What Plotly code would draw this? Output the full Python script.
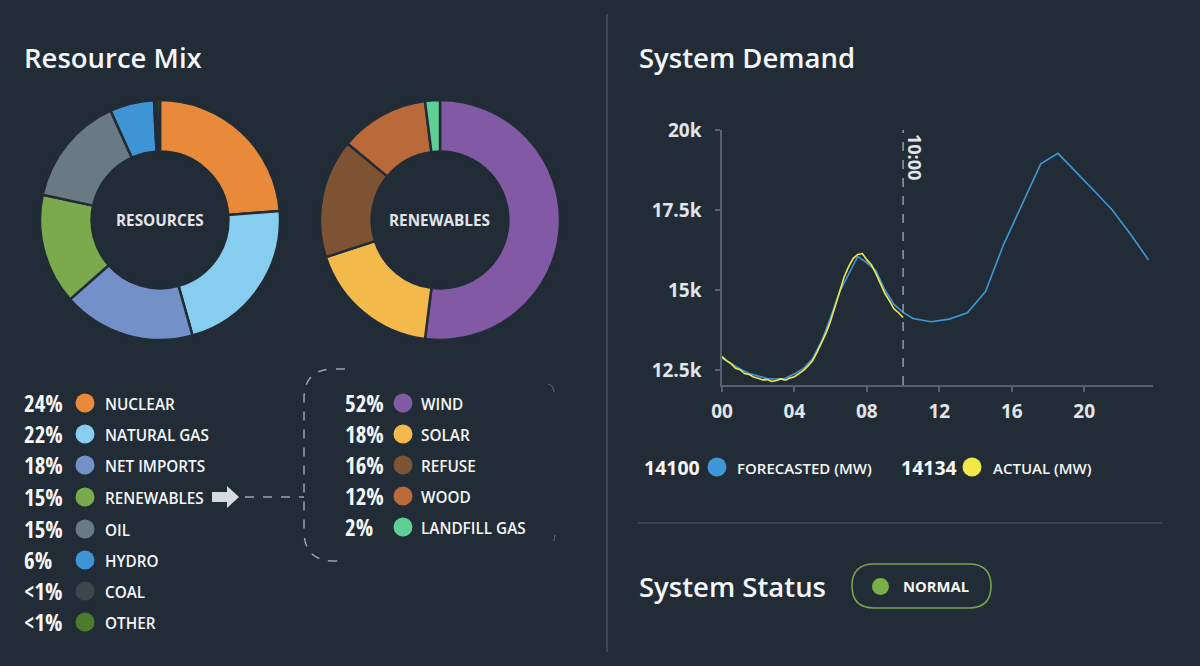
import plotly.graph_objects as go

W, H = 1200, 666
BG = "#222c37"
WHITE = "#f4f6f8"
LIGHT = "#e1e5e9"
AXIS = "#56626d"

# ---------------- data ----------------
resource_labels = ["NUCLEAR", "NATURAL GAS", "NET IMPORTS", "RENEWABLES", "OIL", "HYDRO", "COAL", "OTHER"]
resource_values = [24, 22, 18, 15, 15, 6, 0.4, 0.4]
resource_colors = ["#e98a3b", "#86cdf0", "#7390c8", "#7aaa4b", "#6a7a83", "#3f95d4", "#3d454d", "#4e7b2b"]

renew_labels = ["WIND", "SOLAR", "REFUSE", "WOOD", "LANDFILL GAS"]
renew_values = [52, 18, 16, 12, 2]
renew_colors = ["#8159a4", "#f4b94b", "#7e5334", "#b9693a", "#5fcf96"]

forecast_hours = [0, 0.5, 1.0, 1.5, 2.0, 2.5, 3.0, 3.5, 4.0, 4.5, 5.0, 5.5, 6.0, 6.5, 7.0, 7.5,
                  8.0, 8.5, 9.0, 9.5, 10.0, 10.55, 11.55, 12.55, 13.55, 14.55, 15.55, 16.55,
                  17.6, 18.55, 19.55, 20.55, 21.55, 22.55, 23.55]
forecast_mw = [12870, 12700, 12530, 12390, 12300, 12230, 12220, 12240, 12380, 12550, 12850, 13400,
               14150, 14950, 15500, 16050, 15850, 15600, 15000, 14550, 14300, 14110, 14010, 14090,
               14290, 14950, 16420, 17650, 18940, 19270, 18700, 18100, 17500, 16750, 15940]

actual_hours = [0, 0.25, 0.5, 0.75, 1.0, 1.25, 1.5, 1.75, 2.0, 2.25, 2.5, 2.75, 3.0, 3.25, 3.5,
                3.75, 4.0, 4.25, 4.5, 4.75, 5.0, 5.25, 5.5, 5.75, 6.0, 6.25, 6.5, 6.75, 7.0, 7.25,
                7.5, 7.75, 8.0, 8.25, 8.5, 8.75, 9.0, 9.25, 9.5, 9.75, 10.0]
actual_mw = [12920, 12790, 12700, 12550, 12510, 12390, 12360, 12280, 12240, 12190, 12200, 12140,
             12170, 12220, 12180, 12250, 12290, 12380, 12490, 12630, 12790, 13060, 13340, 13660,
             14040, 14510, 14940, 15410, 15740, 15990, 16110, 16140, 15940, 15790, 15510, 15210,
             14890, 14660, 14410, 14290, 14140]

now_hour = 10
now_label = "10:00"
forecast_now = 14100
actual_now = 14134
forecast_color = "#3e97d6"
actual_color = "#f2e84a"

y_ticks = [12500, 15000, 17500, 20000]
y_tick_text = ["12.5k", "15k", "17.5k", "20k"]
x_ticks = [0, 4, 8, 12, 16, 20]
x_tick_text = ["00", "04", "08", "12", "16", "20"]

status_text = "NORMAL"
status_color = "#7aae4a"


def pct_text(v):
    return "<1%" if v < 1 else f"{round(v)}%"


# ---------------- helpers (pixel -> paper) ----------------
def px(x):
    return x / W


def py(y):
    return 1 - y / H


def P(x, y):
    return f"{px(x):.5f},{py(y):.5f}"


PCT_FONT = "Open Sans Condensed, Roboto Condensed, Open Sans"

fig = go.Figure()

# donuts
fig.add_trace(go.Pie(
    values=resource_values, labels=resource_labels, sort=False, direction="clockwise", rotation=0,
    hole=0.57, textinfo="none", showlegend=False, automargin=False,
    marker=dict(colors=resource_colors, line=dict(color=BG, width=2.5)),
    domain=dict(x=[px(40), px(280)], y=[py(340), py(100)]),
))
fig.add_trace(go.Pie(
    values=renew_values, labels=renew_labels, sort=False, direction="clockwise", rotation=0,
    hole=0.57, textinfo="none", showlegend=False, automargin=False,
    marker=dict(colors=renew_colors, line=dict(color=BG, width=2.5)),
    domain=dict(x=[px(320), px(560)], y=[py(340), py(100)]),
))

# demand lines
fig.add_trace(go.Scatter(x=forecast_hours, y=forecast_mw, mode="lines", showlegend=False,
                         line=dict(color=forecast_color, width=1.6), name="FORECASTED (MW)"))
fig.add_trace(go.Scatter(x=actual_hours, y=actual_mw, mode="lines", showlegend=False,
                         line=dict(color=actual_color, width=1.6), name="ACTUAL (MW)"))

annotations = []
shapes = []


def text(x, y, s, size, weight=600, color=WHITE, family="Open Sans", anchor="left", angle=0):
    annotations.append(dict(x=px(x), y=py(y), xref="paper", yref="paper", text=s, showarrow=False,
                            xanchor=anchor, yanchor="middle", textangle=angle,
                            font=dict(family=family, size=size, color=color, weight=weight)))


# titles
text(22, 57, "Resource Mix", 27.5)
text(637, 57, "System Demand", 27.5)
text(637, 586, "System Status", 27.5)

# donut centre labels
text(160, 220, "RESOURCES", 15.3, 700, LIGHT, anchor="center")
text(440, 220, "RENEWABLES", 15.3, 700, LIGHT, anchor="center")

# resource legend
row_y = [403, 434, 465, 497, 529, 560, 591, 622]
for i, (lab, val, col) in enumerate(zip(resource_labels, resource_values, resource_colors)):
    y = row_y[i]
    text(22, y, pct_text(val), 23, 700, WHITE, PCT_FONT)
    shapes.append(dict(type="circle", xref="paper", yref="paper", x0=px(75.5), x1=px(94.5),
                       y0=py(y + 9.5), y1=py(y - 9.5), fillcolor=col, line=dict(width=0)))
    text(103, y + 1, lab, 15.3, 600, WHITE)

# renewables legend
row_y2 = [403, 434, 465, 496, 527]
for i, (lab, val, col) in enumerate(zip(renew_labels, renew_values, renew_colors)):
    y = row_y2[i]
    text(343, y, pct_text(val), 23, 700, WHITE, PCT_FONT)
    shapes.append(dict(type="circle", xref="paper", yref="paper", x0=px(393.5), x1=px(412.5),
                       y0=py(y + 9.5), y1=py(y - 9.5), fillcolor=col, line=dict(width=0)))
    text(419, y + 1, lab, 15.3, 600, WHITE)

# arrow + bracket
arrow = ("M " + P(212, 492) + " L " + P(227, 492) + " L " + P(227, 486) + " L " + P(239, 497) +
         " L " + P(227, 508) + " L " + P(227, 502) + " L " + P(212, 502) + " Z")
shapes.append(dict(type="path", xref="paper", yref="paper", path=arrow, fillcolor="#d6dbe0",
                   line=dict(width=0)))
shapes.append(dict(type="path", xref="paper", yref="paper",
                   path="M " + P(245, 497) + " L " + P(304, 497),
                   line=dict(color="#9aa4ad", width=1.5, dash="dash")))
bracket = ("M " + P(345, 369) + " L " + P(334, 369) + " Q " + P(304, 369) + " " + P(304, 399) +
           " L " + P(304, 531) + " Q " + P(304, 561) + " " + P(334, 561) + " L " + P(345, 561))
shapes.append(dict(type="path", xref="paper", yref="paper", path=bracket,
                   line=dict(color="#9aa4ad", width=1.5, dash="dash")))
shapes.append(dict(type="path", xref="paper", yref="paper",
                   path="M " + P(548, 384) + " Q " + P(553, 385) + " " + P(554, 392),
                   line=dict(color="#7d8892", width=1.2), opacity=0.6))
shapes.append(dict(type="path", xref="paper", yref="paper",
                   path="M " + P(555, 535) + " L " + P(554, 541),
                   line=dict(color="#7d8892", width=1.2), opacity=0.6))

# dividers
shapes.append(dict(type="line", xref="paper", yref="paper", x0=px(607), x1=px(607),
                   y0=py(14), y1=py(652), line=dict(color="#46525d", width=1.5)))
shapes.append(dict(type="line", xref="paper", yref="paper", x0=px(638), x1=px(1162),
                   y0=py(523), y1=py(523), line=dict(color="#3f4a55", width=1.5)))

# "now" marker
shapes.append(dict(type="line", xref="x", yref="paper", x0=now_hour, x1=now_hour,
                   y0=py(385), y1=py(130), line=dict(color="#a3acb5", width=1.3, dash="dash")))
annotations.append(dict(x=now_hour, y=py(157), xref="x", yref="paper", text=now_label,
                        showarrow=False, textangle=90, xanchor="center", yanchor="middle",
                        xshift=12, font=dict(family="Open Sans", size=18, color=LIGHT, weight=700)))

# demand legend
text(642, 467, f"{forecast_now}", 19.5, 700, WHITE)
shapes.append(dict(type="circle", xref="paper", yref="paper", x0=px(707.5), x1=px(726.5),
                   y0=py(476.5), y1=py(457.5), fillcolor=forecast_color, line=dict(width=0)))
text(735, 468, "FORECASTED (MW)", 15, 600, WHITE)
text(899, 467, f"{actual_now}", 19.5, 700, WHITE)
shapes.append(dict(type="circle", xref="paper", yref="paper", x0=px(962.5), x1=px(981.5),
                   y0=py(476.5), y1=py(457.5), fillcolor=actual_color, line=dict(width=0)))
text(991, 468, "ACTUAL (MW)", 15, 600, WHITE)

# status pill
pill = ("M " + P(874, 564) + " L " + P(969, 564) + " Q " + P(991, 564) + " " + P(991, 586) +
        " Q " + P(991, 608) + " " + P(969, 608) + " L " + P(874, 608) + " Q " + P(852, 608) + " " +
        P(852, 586) + " Q " + P(852, 564) + " " + P(874, 564) + " Z")
shapes.append(dict(type="path", xref="paper", yref="paper", path=pill,
                   line=dict(color="#7ba250", width=1.6)))
shapes.append(dict(type="circle", xref="paper", yref="paper", x0=px(872), x1=px(889),
                   y0=py(595), y1=py(578), fillcolor=status_color, line=dict(width=0)))
text(901, 586, status_text, 14.8, 700, WHITE)

axis_common = dict(showline=True, linecolor=AXIS, linewidth=1.5, ticks="outside", ticklen=5,
                   tickcolor=AXIS, tickwidth=1.5, showgrid=False, zeroline=False, automargin=False,
                   tickfont=dict(family="Open Sans", size=19, color=LIGHT, weight=700))

fig.update_layout(
    width=W, height=H, margin=dict(l=0, r=0, t=0, b=0, pad=0, autoexpand=False),
    paper_bgcolor=BG, plot_bgcolor=BG,
    xaxis=dict(domain=[px(722), px(1153)], range=[0, 23.8], tickvals=x_ticks, ticktext=x_tick_text,
               ticklabelstandoff=3, **axis_common),
    yaxis=dict(domain=[py(385), py(130)], range=[12031, 20000], tickvals=y_ticks,
               ticktext=y_tick_text, ticklabelstandoff=10, **axis_common),
    annotations=annotations, shapes=shapes,
)

fig.write_html("out.html", config={"displayModeBar": False},
               post_script="document.body.style.margin='0';document.body.style.overflow='hidden';")
